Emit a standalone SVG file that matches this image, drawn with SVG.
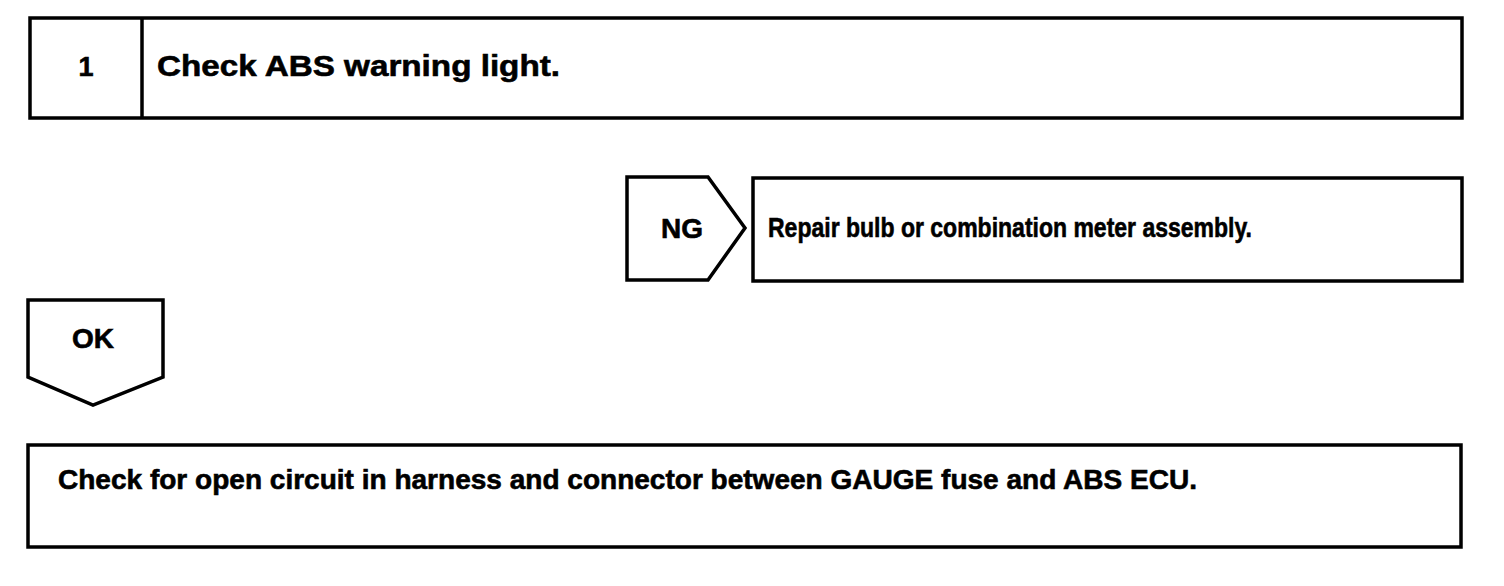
<svg xmlns="http://www.w3.org/2000/svg" width="1504" height="586" viewBox="0 0 1504 586">
<style>
.box{fill:#fff;stroke:#000;stroke-width:3.5}
.t{font-family:"Liberation Sans",Arial,sans-serif;font-weight:bold;fill:#000;stroke:#000;stroke-width:0.6}
</style>
<rect width="1504" height="586" fill="#fff"/>
<g id="step1">
<rect class="box" x="30" y="18" width="1432" height="100"/>
<line x1="142" y1="18" x2="142" y2="118" stroke="#000" stroke-width="3.5"/>
<text class="t" x="86" y="76" font-size="27" text-anchor="middle">1</text>
<text class="t" x="157" y="76" font-size="30" textLength="403" lengthAdjust="spacingAndGlyphs">Check ABS warning light.</text>
</g>
<g id="ng">
<polygon class="box" points="627,177 708,177 745,228 708,280 627,280"/>
<text class="t" x="682" y="238" font-size="28" text-anchor="middle">NG</text>
</g>
<g id="repair">
<rect class="box" x="753" y="178" width="709" height="103"/>
<text class="t" x="768" y="237" font-size="28" textLength="484" lengthAdjust="spacingAndGlyphs">Repair bulb or combination meter assembly.</text>
</g>
<g id="ok">
<polygon class="box" points="28,300 163,300 163,377 93,405 28,377"/>
<text class="t" x="93" y="348" font-size="28" text-anchor="middle">OK</text>
</g>
<g id="check">
<rect class="box" x="28" y="445" width="1433" height="102"/>
<text class="t" x="58" y="489" font-size="28" textLength="1139" lengthAdjust="spacingAndGlyphs">Check for open circuit in harness and connector between GAUGE fuse and ABS ECU.</text>
</g>
<g id="connectors"></g>
</svg>
